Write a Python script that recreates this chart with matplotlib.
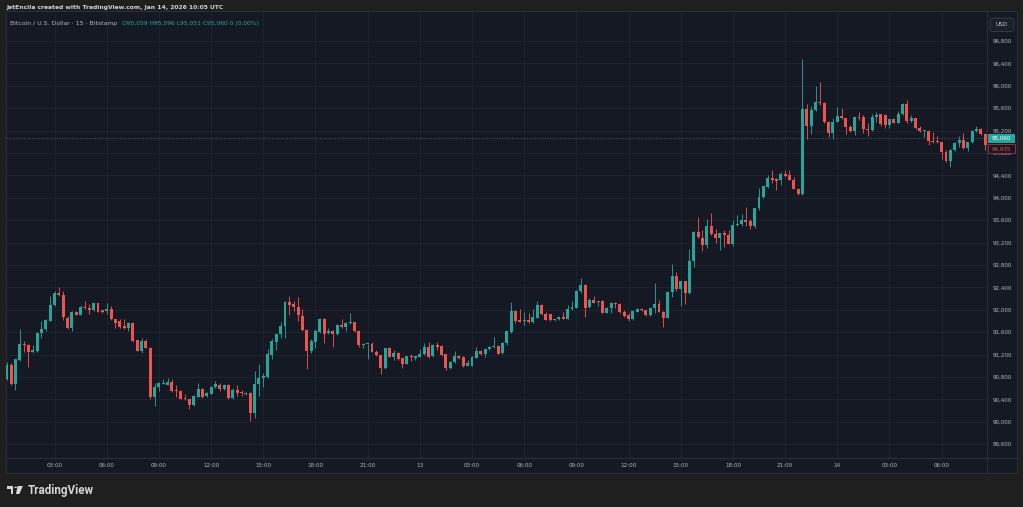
import numpy as np
import matplotlib.pyplot as plt
from matplotlib.lines import Line2D
from matplotlib.patches import Rectangle, Circle, Polygon, FancyBboxPatch
from matplotlib.transforms import blended_transform_factory

# BTC/USD 15-minute candles, Bitstamp, Jan 12 00:15 -> Jan 14 08:30 UTC
opens = [
    90758, 91009, 90669, 91104, 91385, 91380, 91248, 91266, 91594, 91653,
    91803, 92083, 92298, 92262, 91862, 91677, 91964, 91910, 92047, 92041,
    92000, 92113, 91988, 91976, 92023, 91832, 91796, 91713, 91677, 91761,
    91457, 91272, 91439, 91326, 90442, 90627, 90681, 90663, 90710, 90561,
    90555, 90430, 90400, 90299, 90448, 90579, 90460, 90502, 90627, 90663,
    90579, 90663, 90418, 90561, 90532, 90490, 90520, 90149, 90681, 90776,
    90800, 91188, 91427, 91564, 91714, 92131, 92101, 92042, 91892, 91636,
    91266, 91433, 91606, 91845, 91582, 91624, 91562, 91728, 91698, 91764,
    91776, 91627, 91371, 91383, 91389, 91252, 91193, 90955, 91312, 91163,
    91228, 91133, 91038, 91175, 91145, 91163, 91205, 91330, 91175, 91371,
    91353, 91205, 90955, 91062, 91175, 91157, 90996, 91000, 91145, 91264,
    91205, 91300, 91341, 91359, 91234, 91400, 91603, 91978, 91817, 91799,
    91817, 91781, 91859, 92079, 91930, 91918, 91811, 91829, 91876, 91841,
    92019, 92037, 92329, 92448, 92049, 92174, 92144, 92156, 91948, 92037,
    92114, 92108, 91966, 91900, 91829, 91966, 92019, 91996, 91900, 92037,
    92108, 91966, 91859, 92317, 92597, 92371, 92508, 92300, 92865, 93389,
    93287, 93150, 93502, 93359, 93275, 93365, 93335, 93180, 93513, 93525,
    93597, 93591, 93490, 93817, 94007, 94192, 94352, 94335, 94311, 94424,
    94400, 94323, 94162, 94062, 95585, 95288, 95568, 95717, 95699, 95347,
    95163, 95359, 95466, 95419, 95258, 95193, 95437, 95437, 95234, 95210,
    95437, 95490, 95478, 95300, 95401, 95341, 95496, 95675, 95377, 95419,
    95252, 95193, 95199, 95020, 95014, 94990, 94824, 94657, 94853, 94984,
    95032, 94883, 94990, 95187, 95228, 95139,
]
highs = [
    91068, 91045, 91128, 91653, 91445, 91390, 91380, 91600, 91803, 91830,
    92250, 92340, 92399, 92328, 91890, 91985, 91985, 92083, 92160, 92100,
    92130, 92130, 92000, 92113, 92060, 91840, 91832, 91832, 91785, 91785,
    91465, 91504, 91475, 91335, 90699, 90711, 90760, 90788, 90758, 90651,
    90570, 90490, 90405, 90475, 90687, 90610, 90530, 90640, 90722, 90690,
    90680, 90680, 90610, 90657, 90560, 90530, 90530, 90907, 91027, 90880,
    91296, 91475, 91575, 91785, 92161, 92251, 92160, 92221, 92012, 91650,
    91475, 91650, 91860, 91850, 91684, 91640, 91740, 91835, 91775, 91937,
    91790, 91640, 91400, 91395, 91420, 91280, 91200, 91325, 91330, 91282,
    91240, 91140, 91180, 91205, 91180, 91300, 91401, 91419, 91385, 91431,
    91370, 91215, 91085, 91264, 91190, 91180, 91110, 91170, 91341, 91280,
    91305, 91359, 91514, 91370, 91425, 91625, 92138, 91995, 92007, 91960,
    91935, 92019, 92150, 92100, 91960, 91930, 91840, 91888, 91960, 92080,
    92150, 92352, 92573, 92465, 92215, 92245, 92165, 92170, 92050, 92140,
    92140, 92120, 92000, 91950, 91995, 92030, 92030, 92005, 92050, 92471,
    92170, 91980, 92330, 92823, 92680, 92520, 92520, 93085, 93400, 93656,
    93430, 93621, 93728, 93440, 93380, 93430, 93420, 93609, 93692, 93716,
    93835, 93630, 93825, 94174, 94215, 94412, 94489, 94350, 94460, 94495,
    94495, 94370, 94180, 96478, 95675, 95639, 95996, 96062, 95715, 95375,
    95419, 95615, 95595, 95430, 95300, 95450, 95538, 95480, 95330, 95500,
    95526, 95500, 95500, 95410, 95420, 95556, 95690, 95746, 95480, 95430,
    95280, 95210, 95210, 95181, 95100, 95000, 94855, 94865, 94995, 95103,
    95151, 95000, 95210, 95282, 95240, 95150,
]
lows = [
    90746, 90655, 90567, 91090, 91248, 90979, 91235, 91250, 91504, 91625,
    91795, 92060, 92240, 91820, 91665, 91623, 91905, 91900, 92020, 91922,
    91985, 91960, 91950, 91922, 91825, 91683, 91680, 91655, 91617, 91430,
    91260, 91225, 91310, 90400, 90281, 90550, 90670, 90650, 90540, 90448,
    90400, 90395, 90233, 90290, 90440, 90430, 90445, 90490, 90610, 90550,
    90570, 90410, 90405, 90460, 90460, 90475, 90012, 90072, 90460, 90620,
    90790, 91130, 91284, 91505, 91504, 91904, 91980, 91803, 91630, 90949,
    91225, 91325, 91590, 91403, 91560, 91335, 91550, 91680, 91621, 91740,
    91610, 91341, 91325, 91115, 91240, 91175, 90859, 90945, 91150, 91103,
    91110, 90955, 91025, 91085, 91100, 91150, 91190, 91145, 91160, 91280,
    91180, 90931, 90945, 91050, 91130, 90985, 90990, 90990, 91135, 91190,
    91160, 91285, 91310, 91210, 91220, 91365, 91590, 91757, 91775, 91722,
    91770, 91770, 91850, 91905, 91810, 91805, 91800, 91815, 91830, 91830,
    92005, 92025, 92300, 91870, 92030, 92115, 92060, 91940, 91935, 91950,
    92040, 91950, 91875, 91800, 91820, 91955, 91980, 91885, 91890, 91950,
    91955, 91698, 91850, 92228, 92340, 92062, 92109, 92290, 92764, 93280,
    93043, 93100, 93335, 93190, 93061, 93121, 93170, 93145, 93500, 93490,
    93490, 93440, 93460, 93790, 93995, 94175, 94265, 94132, 94235, 94380,
    94310, 94150, 94055, 94050, 95044, 95139, 95555, 95660, 95330, 95092,
    95044, 95345, 95400, 95139, 95170, 95121, 95390, 95150, 95103, 95195,
    95360, 95290, 95250, 95250, 95330, 95330, 95485, 95340, 95360, 95225,
    95180, 95080, 94943, 94980, 94985, 94687, 94640, 94544, 94840, 94915,
    94865, 94840, 94980, 95175, 95125, 94850,
]
closes = [
    91009, 90669, 91116, 91385, 91367, 91248, 91284, 91594, 91665, 91820,
    92083, 92298, 92262, 91880, 91677, 91970, 91910, 92047, 92029, 92000,
    92113, 91970, 91964, 92023, 91832, 91773, 91689, 91671, 91773, 91439,
    91272, 91439, 91320, 90442, 90627, 90687, 90690, 90711, 90549, 90543,
    90412, 90400, 90299, 90460, 90579, 90448, 90508, 90627, 90669, 90579,
    90663, 90418, 90561, 90520, 90508, 90520, 90149, 90681, 90788, 90818,
    91206, 91445, 91564, 91714, 92131, 92083, 92042, 91904, 91636, 91266,
    91445, 91624, 91845, 91564, 91624, 91576, 91728, 91698, 91764, 91788,
    91627, 91371, 91389, 91389, 91252, 91193, 90955, 91312, 91163, 91228,
    91121, 91038, 91169, 91157, 91175, 91216, 91330, 91163, 91371, 91341,
    91193, 90955, 91062, 91175, 91145, 90996, 91050, 91163, 91264, 91205,
    91294, 91341, 91359, 91216, 91412, 91615, 91978, 91799, 91787, 91817,
    91781, 91870, 92079, 91918, 91817, 91817, 91829, 91876, 91841, 92019,
    92043, 92335, 92448, 92037, 92174, 92126, 92156, 91948, 92037, 92114,
    92096, 91960, 91888, 91829, 91972, 92019, 91990, 91900, 92037, 92108,
    91966, 91859, 92317, 92597, 92377, 92508, 92300, 92865, 93389, 93299,
    93150, 93502, 93347, 93275, 93365, 93329, 93180, 93513, 93525, 93597,
    93573, 93490, 93817, 94007, 94204, 94352, 94323, 94305, 94424, 94394,
    94323, 94156, 94067, 95585, 95288, 95568, 95717, 95687, 95347, 95163,
    95359, 95466, 95419, 95258, 95193, 95437, 95419, 95222, 95210, 95437,
    95478, 95310, 95300, 95401, 95341, 95496, 95675, 95377, 95431, 95240,
    95193, 95199, 95020, 94990, 94996, 94824, 94657, 94853, 94984, 95032,
    94883, 94990, 95187, 95228, 95139, 94935,
]

time_labels = ["03:00", "06:00", "09:00", "12:00", "15:00", "18:00", "21:00", "13",
               "03:00", "06:00", "09:00", "12:00", "15:00", "18:00", "21:00", "14",
               "03:00", "06:00"]
first_tick = 11          # candle index of the 03:00 bar on Jan 12
price_ticks = list(range(89600, 97200, 400))
last_price = 95060
prev_label = 94935

header = "JetEncila created with TradingView.com, Jan 14, 2026 10:05 UTC"
legend_name = "Bitcoin / U.S. Dollar \u00b7 15 \u00b7 Bitstamp"
legend_ohlc = "O95,059 H95,096 L95,051 C95,060 0 (0.00%)"

OUTER = "#1f1f1f"
PANEL = "#151924"
GRID = "#1f2330"
SEP = "#2a2e39"
TXT = "#b2b5be"
UP = "#26a69a"
DOWN = "#ef5350"

W, H = 1023, 507


def fx(x):
    return x / W


def fy(y):
    return 1 - y / H


def fit(t, width_px):
    r = fig.canvas.get_renderer()
    w = t.get_window_extent(r).width
    t.set_fontsize(t.get_fontsize() * width_px / w)


fig = plt.figure(figsize=(W / 100, H / 100), dpi=100, facecolor=OUTER)
fig.add_artist(Rectangle((fx(5.7), fy(473)), fx(1017) - fx(5.7), fy(11) - fy(473),
                         transform=fig.transFigure, fc=PANEL, ec=SEP, lw=0.8, zorder=0))

ax = fig.add_axes([fx(5.7), fy(458), fx(987.3) - fx(5.7), fy(11) - fy(458)])
ax.set_facecolor("none")
for s in ax.spines.values():
    s.set_visible(False)

o = np.array(opens, dtype=float)
hi = np.array(highs, dtype=float)
lo = np.array(lows, dtype=float)
c = np.array(closes, dtype=float)
x = np.arange(len(c))
cols = np.where(c >= o, UP, DOWN)

ax.vlines(x, lo, hi, colors=cols, lw=0.7, alpha=0.9, zorder=3)
ax.bar(x, np.maximum(np.abs(c - o), 20), bottom=np.minimum(o, c), width=0.68,
       color=cols, lw=0, zorder=4)

ax.axhline(last_price, color="#3b5f5c", lw=0.7, ls=(0, (1, 1.6)), zorder=2)

ax.set_xlim(-0.23, 225.5)
ax.set_ylim(89354, 97336)

ax.set_xticks([first_tick + 12 * k for k in range(len(time_labels))])
ax.set_xticklabels(time_labels)
ax.yaxis.tick_right()
ax.set_yticks(price_ticks)
ax.set_yticklabels([f"{p:,}" for p in price_ticks])
ax.tick_params(axis="both", length=0, labelsize=4.1, labelcolor=TXT)
ax.tick_params(axis="x", pad=3.4)
ax.tick_params(axis="y", pad=4.0)
ax.grid(True, color=GRID, lw=0.8, zorder=0)

# axis separators
fig.add_artist(Line2D([fx(987.3)] * 2, [fy(11), fy(473)], transform=fig.transFigure,
                      color=SEP, lw=0.8))
fig.add_artist(Line2D([fx(5.7), fx(1017)], [fy(458)] * 2, transform=fig.transFigure,
                      color=SEP, lw=0.8))

# price labels on the scale
tr = blended_transform_factory(fig.transFigure, ax.transData)
ax.add_patch(Rectangle((fx(988), last_price - 82), fx(1015) - fx(988), 164,
                       transform=tr, fc=UP, ec="none", clip_on=False, zorder=10))
ax.text(fx(1001.5), last_price, f"{last_price:,}", transform=tr, ha="center", va="center",
        fontsize=4.1, color="white", clip_on=False, zorder=11)
ax.add_patch(Rectangle((fx(988), prev_label - 140), fx(1015) - fx(988), 158,
                       transform=tr, fc=PANEL, ec="#a8343b", lw=0.6, clip_on=False, zorder=10))
ax.text(fx(1001.5), prev_label - 61, f"{prev_label:,}", transform=tr, ha="center",
        va="center", fontsize=4.1, color=DOWN, clip_on=False, zorder=11)

# USD box
fig.add_artist(FancyBboxPatch((fx(990), fy(31.5)), fx(1014) - fx(990), fy(18) - fy(31.5),
                              boxstyle="round,pad=0,rounding_size=0.004",
                              transform=fig.transFigure, fc="#1c202b", ec="#3a3e49", lw=0.6))
fig.text(fx(1002), fy(24.8), "USD", ha="center", va="center", fontsize=4.1, color="#d1d4dc")

# header and legend
t = fig.text(fx(6), fy(7.3), header, ha="left", va="center", fontsize=5,
             color="#d1d4dc", weight="bold")
fit(t, 221)
t = fig.text(fx(10), fy(23.5), legend_name, ha="left", va="center", fontsize=5, color=TXT)
fit(t, 107)
t = fig.text(fx(122), fy(23.5), legend_ohlc, ha="left", va="center", fontsize=5, color="#22ab94")
fit(t, 139)

# TradingView logo
logo = "#d6d6d6"
fig.add_artist(Rectangle((fx(6.7), fy(488.8)), fx(13.4) - fx(6.7), fy(486) - fy(488.8),
                         transform=fig.transFigure, fc=logo, ec="none"))
fig.add_artist(Rectangle((fx(10.6), fy(494)), fx(13.4) - fx(10.6), fy(486) - fy(494),
                         transform=fig.transFigure, fc=logo, ec="none"))
fig.add_artist(Circle((fx(15.6), fy(487.4)), 1.4 / W, transform=fig.transFigure,
                      fc=logo, ec="none"))
fig.add_artist(Polygon([(fx(17.6), fy(486)), (fx(22.8), fy(486)), (fx(19.4), fy(494)),
                        (fx(15.9), fy(494))], closed=True, transform=fig.transFigure,
                       fc=logo, ec="none"))
t = fig.text(fx(27.7), fy(490.2), "TradingView", ha="left", va="center", fontsize=8,
             color=logo, weight="bold", family="Roboto")
fit(t, 66.6)

fig.savefig("out.png", dpi=100, facecolor=OUTER)
